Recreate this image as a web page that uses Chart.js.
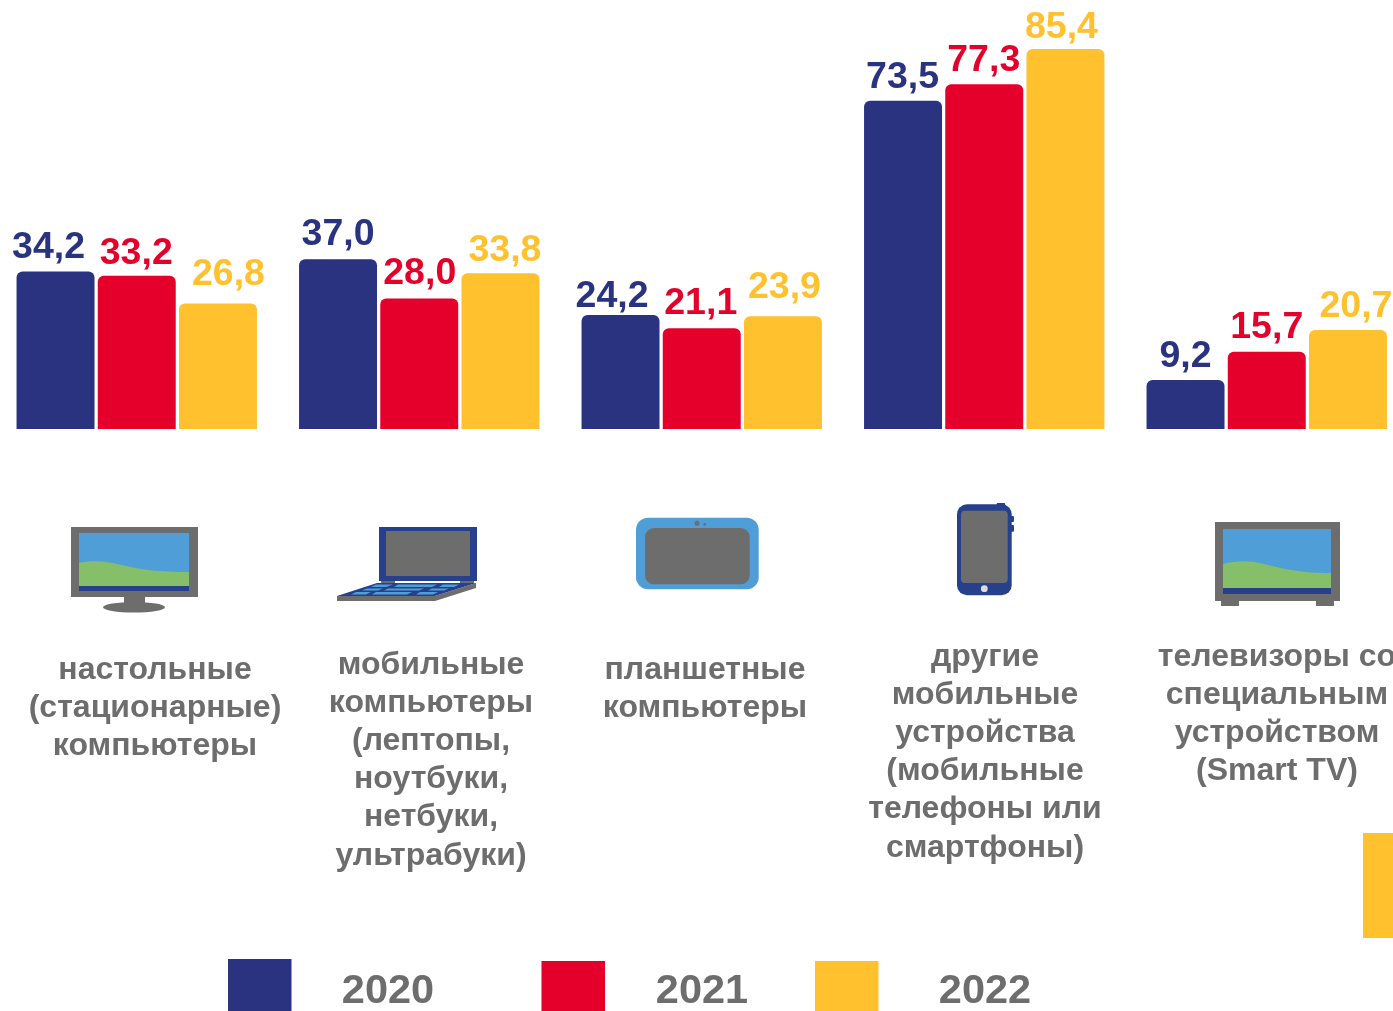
<!DOCTYPE html>
<html lang="ru">
<head>
<meta charset="utf-8">
<title>Устройства 2020-2022</title>
<script src="https://cdn.jsdelivr.net/npm/chart.js@4"></script>
<style>
    html, body { margin: 0; padding: 0; background: #fff; overflow: hidden; }
    #page { position: relative; width: 1393px; height: 1011px; overflow: hidden; }
    #chartBox { position: absolute; left: -5px; top: 0; width: 1413px; height: 1011px; }
    #icons { position: absolute; left: 0; top: 0; }
    #corner { position: absolute; left: 1363px; top: 833px; width: 30px; height: 105px; background: #ffc12d; }
</style>
</head>
<body>
<div id="page">
    <div id="chartBox"><canvas id="deviceChart" width="1413" height="1011"></canvas></div>
    <svg id="icons" width="1393" height="1011" xmlns="http://www.w3.org/2000/svg">
        <!-- монитор -->
        <rect x="71" y="527" width="127" height="70" fill="#6d6d6d"/>
        <rect x="79" y="533" width="110" height="58" fill="#4f9ed8"/>
        <path d="M79 563 C92 560 106 561 122 565 C142 570 160 572 189 572 V586 H79 Z" fill="#86bf6a"/>
        <rect x="79" y="586" width="110" height="5" fill="#27408b"/>
        <rect x="124" y="597" width="21" height="7" fill="#6d6d6d"/>
        <ellipse cx="134" cy="607.3" rx="31" ry="5.3" fill="#6d6d6d"/>
        <!-- ноутбук -->
        <rect x="379" y="527" width="98" height="54" fill="#27408b"/>
        <rect x="386" y="531" width="84" height="45" fill="#6d6d6d"/>
        <rect x="381" y="581" width="14" height="2.5" fill="#6d6d6d"/>
        <rect x="460" y="581" width="14" height="2.5" fill="#6d6d6d"/>
        <path d="M337 596 H435 L476 583 V588 L435 601 H337 Z" fill="#6d6d6d"/>
        <path d="M337 596 L377 583 H476 L435 596 Z" fill="#27408b"/>
        <path d="M371 587 L376 584.5 H393 L386 587 Z M394 587 L398 584.5 H437 L432 587 Z M439 587 L443 584.5 H459 L454 587 Z M362 590.5 L367 588.5 H383 L378 590.5 Z M384 590.5 L388 588.5 H424 L419 590.5 Z M428 590.5 L432 588.5 H449 L444 590.5 Z M351 594.5 L356 592 H371 L366 594.5 Z M372 594.5 L376 592 H412 L407 594.5 Z M416 594.5 L420 592 H438 L433 594.5 Z" fill="#4f9ed8"/>
        <!-- планшет -->
        <rect x="636" y="517.7" width="122.7" height="71.6" rx="12" fill="#4f9ed8"/>
        <rect x="645" y="528" width="104.7" height="56.3" rx="9" fill="#6d6d6d"/>
        <circle cx="697" cy="523.3" r="2.5" fill="#6d6d6d"/>
        <circle cx="704.7" cy="524.3" r="1.3" fill="#6d6d6d"/>
        <!-- смартфон -->
        <rect x="996.7" y="503" width="8.5" height="4" rx="1" fill="#27408b"/>
        <rect x="1010" y="516" width="4" height="6" rx="1" fill="#27408b"/>
        <rect x="1010" y="525" width="4" height="6.7" rx="1" fill="#27408b"/>
        <rect x="957" y="504.3" width="54.7" height="91" rx="10" fill="#27408b"/>
        <rect x="961" y="510.7" width="46.7" height="72.3" rx="4" fill="#6d6d6d"/>
        <circle cx="984.3" cy="588.7" r="3.4" fill="#dcdcdc"/>
        <!-- телевизор -->
        <rect x="1221" y="600" width="18" height="6" fill="#6d6d6d"/>
        <rect x="1316" y="600" width="18" height="6" fill="#6d6d6d"/>
        <rect x="1215" y="522" width="125" height="79" fill="#6d6d6d"/>
        <rect x="1223" y="529" width="108" height="65" fill="#4f9ed8"/>
        <path d="M1223 564 C1236 561 1248 560 1264 564 C1284 569 1300 573 1331 573 V588 H1223 Z" fill="#86bf6a"/>
        <rect x="1223" y="588" width="108" height="6" fill="#27408b"/>
    </svg>
    <div id="corner"></div>
</div>

<script>
// Данные
const years = ['2020', '2021', '2022'];
const values2020 = [34.2, 37.0, 24.2, 73.5, 9.2];
const values2021 = [33.2, 28.0, 21.1, 77.3, 15.7];
const values2022 = [26.8, 33.8, 23.9, 85.4, 20.7];
const categoryLines = [
    ['настольные', '(стационарные)', 'компьютеры'],
    ['мобильные', 'компьютеры', '(лептопы,', 'ноутбуки,', 'нетбуки,', 'ультрабуки)'],
    ['планшетные', 'компьютеры'],
    ['другие', 'мобильные', 'устройства', '(мобильные', 'телефоны или', 'смартфоны)'],
    ['телевизоры со', 'специальным', 'устройством', '(Smart TV)']
];

// Цвета
const navy = '#29337f';
const red = '#e4002b';
const yellow = '#ffc12d';
const gray = '#6d6d6d';

// Сдвиги подписей относительно столбцов [по x, по y]
const valueNudge = [
    [[-7, 0], [-0.5, 1], [10.5, -6]],
    [[0, -1], [0.5, -1], [4.5, 1]],
    [[-8.5, 5], [-1, -1], [1.5, -5]],
    [[-0.5, 0], [-0.5, 0], [-4, 2]],
    [[0, 0], [0, -1], [8, 0]]
];
// Положение блоков подписей категорий: центр x на странице и y первой строки
const categoryCenterX = [155, 431, 705, 985, 1277];
const categoryFirstY = [678.6, 673.6, 678.6, 665.6, 665.6];
const categoryLineHeight = 38.2;
// Легенда: квадрат [x, y, ширина, высота] и центр текста
const legendBoxes = [[228, 959, 63.5, 52], [541.5, 961, 63.5, 50], [815, 961, 63.5, 50]];
const legendTextX = [388, 702, 985];

const PAGE_SHIFT = 5; // канва сдвинута влево на 5px

// Плагин рисует подписи значений, подписи категорий и легенду
const textPlugin = {
    id: 'textPlugin',
    afterDatasetsDraw(chart) {
        const ctx = chart.ctx;
        ctx.save();
        ctx.textAlign = 'center';
        ctx.textBaseline = 'alphabetic';

        chart.data.datasets.forEach((dataset, d) => {
            const meta = chart.getDatasetMeta(d);
            ctx.fillStyle = dataset.backgroundColor;
            ctx.font = 'bold 37.5px "Liberation Sans", Arial, sans-serif';
            meta.data.forEach((bar, i) => {
                const nudge = valueNudge[i][d];
                const text = dataset.data[i].toFixed(1).replace('.', ',');
                ctx.fillText(text, bar.x + nudge[0], bar.y - 13 + nudge[1]);
            });

            // легенда
            const box = legendBoxes[d];
            ctx.fillRect(box[0] + PAGE_SHIFT, box[1], box[2], box[3]);
            ctx.fillStyle = gray;
            ctx.font = 'bold 41.5px "Liberation Sans", Arial, sans-serif';
            ctx.fillText(dataset.label, legendTextX[d] + PAGE_SHIFT, 1003);
        });

        ctx.fillStyle = gray;
        ctx.font = 'bold 32px "Liberation Sans", Arial, sans-serif';
        categoryLines.forEach((lines, i) => {
            lines.forEach((line, n) => {
                ctx.fillText(line, categoryCenterX[i] + PAGE_SHIFT, categoryFirstY[i] + n * categoryLineHeight);
            });
        });
        ctx.restore();
    }
};

const yMin = -2.07; // столбцы на картинке начинаются не с нуля

new Chart(document.getElementById('deviceChart').getContext('2d'), {
    type: 'bar',
    data: {
        labels: categoryLines.map(lines => lines.join(' ')),
        datasets: [
            { label: years[0], data: values2020, backgroundColor: navy },
            { label: years[1], data: values2021, backgroundColor: red },
            { label: years[2], data: values2022, backgroundColor: yellow }
        ].map(ds => ({
            ...ds,
            base: yMin,
            categoryPercentage: 0.8625,
            barPercentage: 0.96,
            borderRadius: { topLeft: 6, topRight: 6, bottomLeft: 0, bottomRight: 0 },
            borderSkipped: 'bottom'
        }))
    },
    options: {
        responsive: false,
        animation: false,
        layout: { padding: { left: 0.5, right: 0, top: 0, bottom: 582 } },
        plugins: { legend: { display: false }, tooltip: { enabled: false } },
        scales: {
            x: { display: false },
            y: { display: false, min: yMin, max: 96.7 }
        }
    },
    plugins: [textPlugin]
});
</script>
</body>
</html>
